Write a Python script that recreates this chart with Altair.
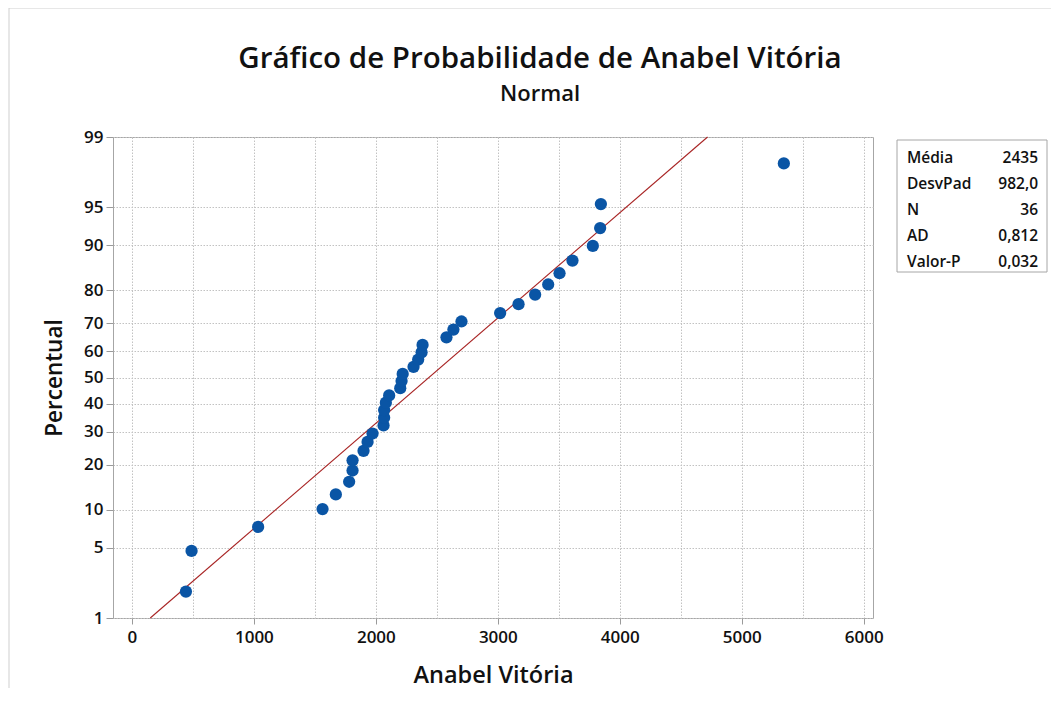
import altair as alt
import pandas as pd
from statistics import NormalDist

# ---- data ----
values = [443, 489, 1035, 1563, 1672, 1781, 1809, 1809, 1899, 1932, 1973, 2063,
          2068, 2068, 2082, 2109, 2200, 2211, 2220, 2309, 2347, 2375, 2383, 2579,
          2636, 2702, 3019, 3170, 3306, 3413, 3506, 3612, 3779, 3839, 3845, 5345]
percent = [1.92, 4.67, 7.42, 10.16, 12.91, 15.66, 18.41, 21.15, 23.90, 26.65,
           29.40, 32.14, 34.89, 37.64, 40.38, 43.13, 45.88, 48.63, 51.37, 54.12,
           56.87, 59.62, 62.36, 65.11, 67.86, 70.60, 73.35, 76.10, 78.85, 81.59,
           84.34, 87.09, 89.84, 92.58, 95.33, 98.08]
mean = 2435
sd = 982.0
fit_pct = [1, 99]
y_ticks = [1, 5, 10, 20, 30, 40, 50, 60, 70, 80, 90, 95, 99]
x_ticks = list(range(0, 6001, 500))
stat_names = ["Média", "DesvPad", "N", "AD", "Valor-P"]
stat_values = ["2435", "982,0", "36", "0,812", "0,032"]

nd = NormalDist()
z_ticks = [nd.inv_cdf(p / 100) for p in y_ticks]
z_lo, z_hi = nd.inv_cdf(0.01), nd.inv_cdf(0.99)

FONT = "Open Sans"
BLUE = "#0A55A5"
RED = "#A82424"
GRID = "#C2C2C2"

xscale = alt.Scale(domain=[-155, 6076], nice=False, zero=False)
yscale = alt.Scale(domain=[z_lo, z_hi], nice=False, zero=False)

xaxis = alt.Axis(
    values=x_ticks,
    labelExpr="datum.value % 1000 == 0 ? format(datum.value, 'd') : ''",
    tickColor={"condition": {"test": "datum.value % 1000 == 0", "value": "#9A9A9A"},
               "value": "transparent"},
    grid=True, gridColor=GRID, gridDash=[1.5, 1.5], gridWidth=1,
    domain=False, tickSize=6, labelPadding=5,
    labelFontSize=17, labelFontWeight=600, labelColor="#111111",
    title="Anabel Vitória", titleFontSize=23.5, titleFontWeight=600,
    titleColor="#111111", titlePadding=18,
)
yaxis = alt.Axis(
    values=z_ticks,
    labelExpr="format(round(cumulativeNormal(datum.value) * 100), 'd')",
    grid=True, gridColor=GRID, gridDash=[1.5, 1.5], gridWidth=1,
    domain=False, tickSize=7, tickColor="#9A9A9A", labelPadding=3,
    labelFontSize=17, labelFontWeight=600, labelColor="#111111",
    title="Percentual", titleFontSize=22.5, titleFontWeight=600,
    titleColor="#111111", titlePadding=17,
)

df = pd.DataFrame({"value": values, "pct": percent})
points = alt.Chart(df).transform_calculate(
    z="quantileNormal(datum.pct / 100)"
).mark_circle(size=150, color=BLUE, opacity=1).encode(
    x=alt.X("value:Q", scale=xscale, axis=xaxis),
    y=alt.Y("z:Q", scale=yscale, axis=yaxis),
)

line = alt.Chart(pd.DataFrame({"pct": fit_pct})).transform_calculate(
    z="quantileNormal(datum.pct / 100)",
    x=f"{mean} + {sd} * datum.z",
).mark_line(color=RED, strokeWidth=1.1).encode(
    x=alt.X("x:Q", scale=xscale),
    y=alt.Y("z:Q", scale=yscale),
)

one = pd.DataFrame({"names": ["\n".join(stat_names)], "vals": ["\n".join(stat_values)]})
box = alt.Chart(one).mark_rect(fill="white", stroke="#A6A6A6", strokeWidth=1).encode(
    x=alt.value(784), x2=alt.value(934), y=alt.value(3), y2=alt.value(135)
)
names_txt = alt.Chart(one).mark_text(
    align="left", baseline="top", lineBreak="\n", lineHeight=26,
    font=FONT, fontSize=15.5, fontWeight=600, color="#111111",
).encode(x=alt.value(794), y=alt.value(14), text="names:N")
vals_txt = alt.Chart(one).mark_text(
    align="right", baseline="top", lineBreak="\n", lineHeight=26,
    font=FONT, fontSize=15.5, fontWeight=600, color="#111111",
).encode(x=alt.value(925), y=alt.value(14), text="vals:N")

border_top = alt.Chart(one).mark_rule(color="#CFCFCF", strokeWidth=1).encode(
    x=alt.value(-104), x2=alt.value(940), y=alt.value(-129)
)
border_left = alt.Chart(one).mark_rule(color="#CFCFCF", strokeWidth=1).encode(
    x=alt.value(-104), y=alt.value(-129), y2=alt.value(570)
)

chart = alt.layer(border_top, border_left, line, points, box, names_txt, vals_txt).properties(
    width=760,
    height=481,
    autosize=alt.AutoSizeParams(type="none"),
    padding={"left": 105, "top": 129, "right": 178, "bottom": 70},
    title=alt.Title(
        "Gráfico de Probabilidade de Anabel Vitória",
        subtitle="Normal",
        anchor="middle",
        frame="group",
        dx=47,
        offset=-98,
        fontSize=29.5,
        fontWeight=600,
        color="#111111",
        font=FONT,
        subtitleFont=FONT,
        subtitleFontSize=22,
        subtitleFontWeight=600,
        subtitleColor="#111111",
        subtitlePadding=9,
    ),
).configure(font=FONT).configure_view(stroke="#A6A6A6", strokeWidth=1)

chart.save("out.html", embed_options={"renderer": "svg", "actions": False})
